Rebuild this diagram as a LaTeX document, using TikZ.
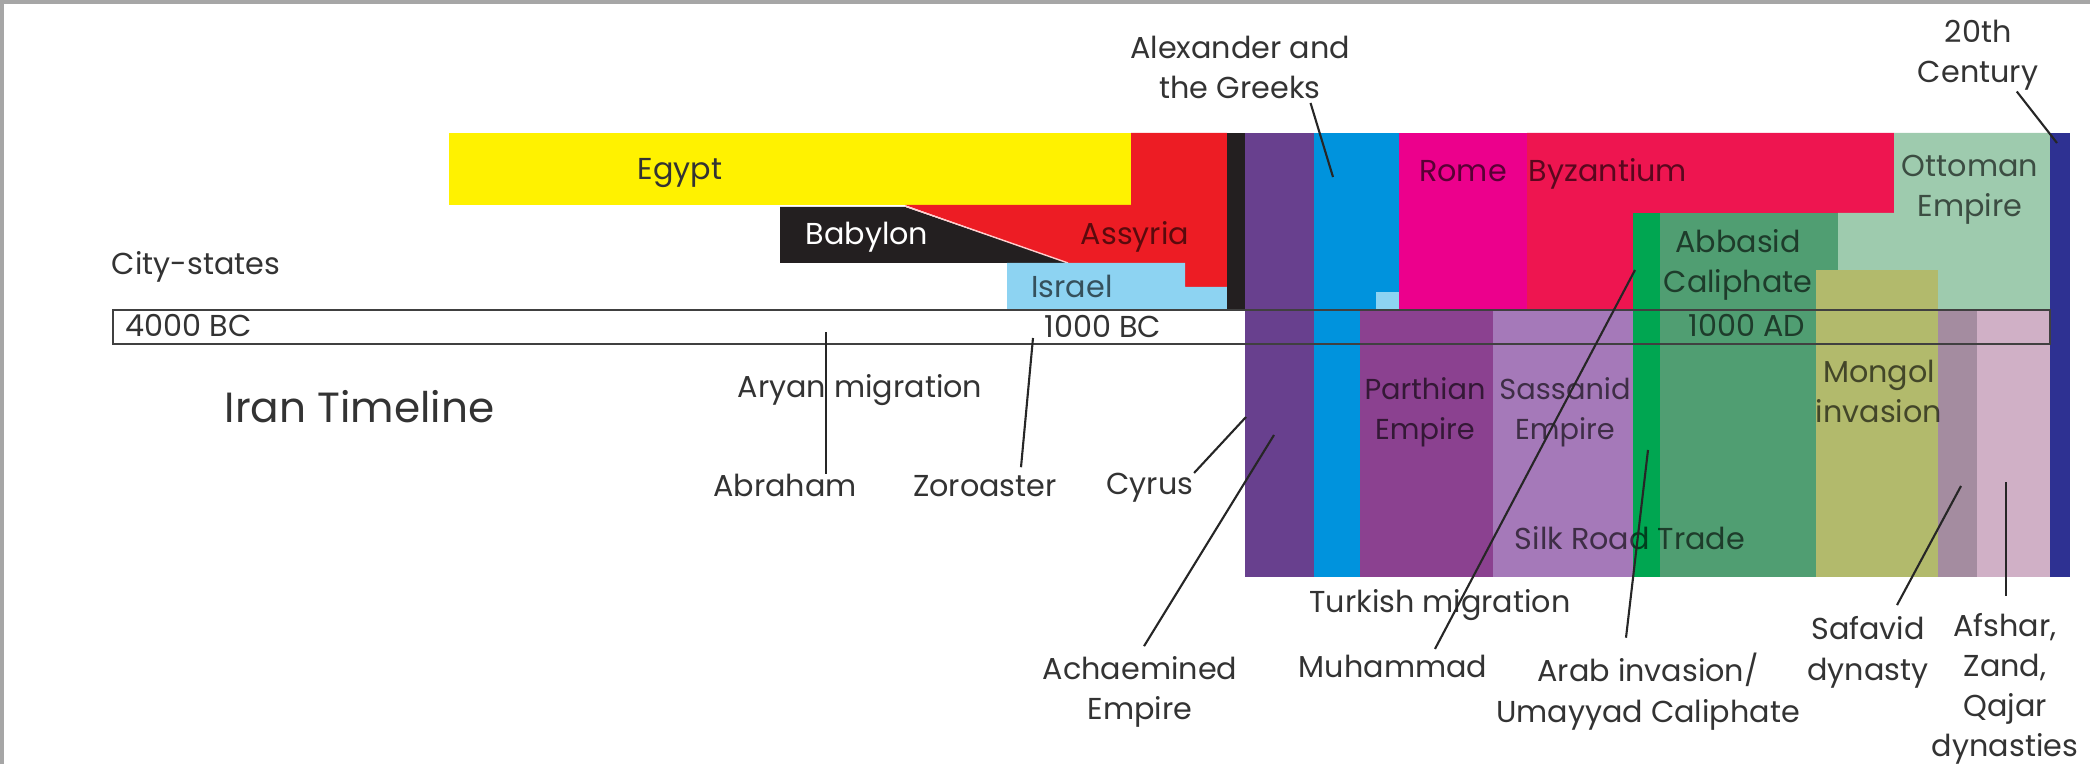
\documentclass[tikz,border=0pt]{standalone}
\usepackage{fontspec}
\setmainfont{Poppins}
\definecolor{egyptc}{HTML}{FFF200}
\definecolor{assyriac}{HTML}{ED1C24}
\definecolor{babylonc}{HTML}{231F20}
\definecolor{israelc}{HTML}{8DD3F2}
\definecolor{achaec}{HTML}{68408E}
\definecolor{greekc}{HTML}{0093DD}
\definecolor{romec}{HTML}{EC008C}
\definecolor{byzc}{HTML}{EE1550}
\definecolor{parthc}{HTML}{8B4190}
\definecolor{sassc}{HTML}{A579B9}
\definecolor{arabc}{HTML}{00A651}
\definecolor{abbasc}{HTML}{509E72}
\definecolor{ottoc}{HTML}{9ECBAE}
\definecolor{mongc}{HTML}{B2BA6C}
\definecolor{safac}{HTML}{A48CA0}
\definecolor{afshc}{HTML}{D0B0C6}
\definecolor{modc}{HTML}{2E3192}

\begin{document}
\begin{tikzpicture}[x=0.01cm, y=-0.01cm,
    lbl/.style={text=black!80, inner sep=0pt, anchor=base, align=center,
        font=\fontsize{8.6}{11.4}\selectfont},
    inlbl/.style={lbl, text=black, text opacity=0.62},
    pointer/.style={draw=black!85, line width=0.6pt}]
    \useasboundingbox (0,0) rectangle (2090,764);
    % Frame
    \draw [gray!70, line width=1pt] (2090,2) -- (2,2) -- (2,764);

    % Blocks above the timeline
    \fill [egyptc] (449,133) rectangle (1131,205);
    \fill [assyriac] (1131,133) -- (1227,133) -- (1227,287) -- (1185,287)
        -- (1185,263) -- (1068,263) -- (905,205) -- (1131,205) -- cycle;
    \fill [babylonc] (780,207) -- (905,207) -- (1068,263) -- (780,263) -- cycle;
    \draw [white!80!red, line width=0.4pt] (905,206) -- (1068,263);
    \fill [israelc] (1007,263) -- (1185,263) -- (1185,287) -- (1227,287)
        -- (1227,310) -- (1007,310) -- cycle;
    \fill [babylonc] (1227,133) rectangle (1245,310);

    % Blocks of Iran and its neighbours
    \fill [achaec] (1245,133) rectangle (1314,577);
    \fill [greekc] (1314,133) rectangle (1399,577);
    \fill [israelc] (1376,292) rectangle (1399,310);
    \fill [romec] (1399,133) rectangle (1527,310);
    \fill [byzc] (1527,133) -- (1894,133) -- (1894,213) -- (1633,213)
        -- (1633,310) -- (1527,310) -- cycle;
    \fill [parthc] (1360,310) rectangle (1493,577);
    \fill [sassc] (1493,310) rectangle (1633,577);
    \fill [ottoc] (1894,133) -- (2050,133) -- (2050,310) -- (1838,310)
        -- (1838,213) -- (1894,213) -- cycle;
    \fill [arabc] (1633,213) rectangle (1660,577);
    \fill [abbasc] (1660,213) rectangle (1838,577);
    \fill [mongc] (1816,270) rectangle (1938,577);
    \fill [safac] (1938,310) rectangle (1977,577);
    \fill [afshc] (1977,310) rectangle (2050,577);
    \fill [modc] (2050,133) rectangle (2070,577);

    % Timeline bar
    \draw [black!75, line width=0.6pt] (113,310) rectangle (2050,344);
    \node [lbl, anchor=base west] (bcA) at (125,337) {4000 BC};
    \node [lbl, anchor=base west] (bcB) at (1044,338) {1000 BC};
    \node [inlbl, anchor=base west] (adA) at (1688,337) {1000 AD};

    % Labels in the blocks (base = last line)
    \node [lbl] (egypt) at (680,180) {Egypt};
    \node [lbl, text=white] (babylon) at (867,245) {Babylon};
    \node [inlbl] (assyria) at (1135,245) {Assyria};
    \node [inlbl] (israel) at (1072,298) {Israel};
    \node [inlbl] (rome) at (1463,182) {Rome};
    \node [inlbl] (byzantium) at (1608,182) {Byzantium};
    \node [inlbl] (ottoman) at (1970,217) {Ottoman\\Empire};
    \node [inlbl] (abbasid) at (1738,293) {Abbasid\\Caliphate};
    \node [inlbl, font=\fontsize{8.2}{11.4}\selectfont] (parthian) at (1425,440) {Parthian\\Empire};
    \node [inlbl, font=\fontsize{8.2}{11.4}\selectfont] (sassanid) at (1565,440) {Sassanid\\Empire};
    \node [inlbl] (mongol) at (1879,423) {Mongol\\invasion};
    \node [inlbl] (silk) at (1630,550) {Silk Road Trade};

    % Free labels
    \node [lbl, anchor=base west, font=\fontsize{12}{15}\selectfont] (title) at (224,423) {Iran Timeline};
    \node [lbl] (city) at (196,275) {City-states};
    \node [lbl] (aryan) at (860,398) {Aryan migration};
    \node [lbl] (turkish) at (1440,613) {Turkish migration};
    \node [lbl] (abraham) at (785,497) {Abraham};
    \node [lbl] (zoroaster) at (985,497) {Zoroaster};
    \node [lbl] (cyrus) at (1150,495) {Cyrus};
    \node [lbl] (achaemenid) at (1140,720) {Achaemined\\Empire};
    \node [lbl] (alexander) at (1240,99) {Alexander and\\the Greeks};
    \node [lbl] (muhammad) at (1393,678) {Muhammad};
    \node [lbl] (arab) at (1648,722) {Arab invasion/\\Umayyad Caliphate};
    \node [lbl] (safavid) at (1868,680) {Safavid\\dynasty};
    \node [lbl] (afshar) at (2005,757) {Afshar,\\Zand,\\Qajar\\dynasties};
    \node [lbl] (century) at (1978,83) {20th\\Century};

    % Pointers
    \coordinate (abrtop) at (826,332);
    \coordinate (zortop) at (1033,338);
    \coordinate (cyrtip) at (1246,417);
    \coordinate (achtip) at (1274,435);
    \coordinate (alxtip) at (1333,177);
    \coordinate (muhtip) at (1635,270);
    \coordinate (arbtip) at (1648,450);
    \coordinate (saftip) at (1961,486);
    \coordinate (afstip) at (2006,482);
    \coordinate (centip) at (2057,143);
    \draw [pointer] (abraham.north -| abrtop) -- (abrtop);
    \draw [pointer] (zoroaster.north) ++(36,-8) -- (zortop);
    \draw [pointer] (cyrus.north east) -- (cyrtip);
    \draw [pointer] (achaemenid.north) ++(4,-10) -- (achtip);
    \draw [pointer] (alexander.south east) ++(-40,3) -- (alxtip);
    \draw [pointer] (muhammad.north) ++(42,-6) -- (muhtip);
    \draw [pointer] (arab.north) ++(-22,-15) -- (arbtip);
    \draw [pointer] (safavid.north) ++(29,-11) -- (saftip);
    \draw [pointer] (afshar.north) ++(1,-17) -- (afstip);
    \draw [pointer] (century.south east) ++(-22,0) -- (centip);
\end{tikzpicture}
\end{document}
